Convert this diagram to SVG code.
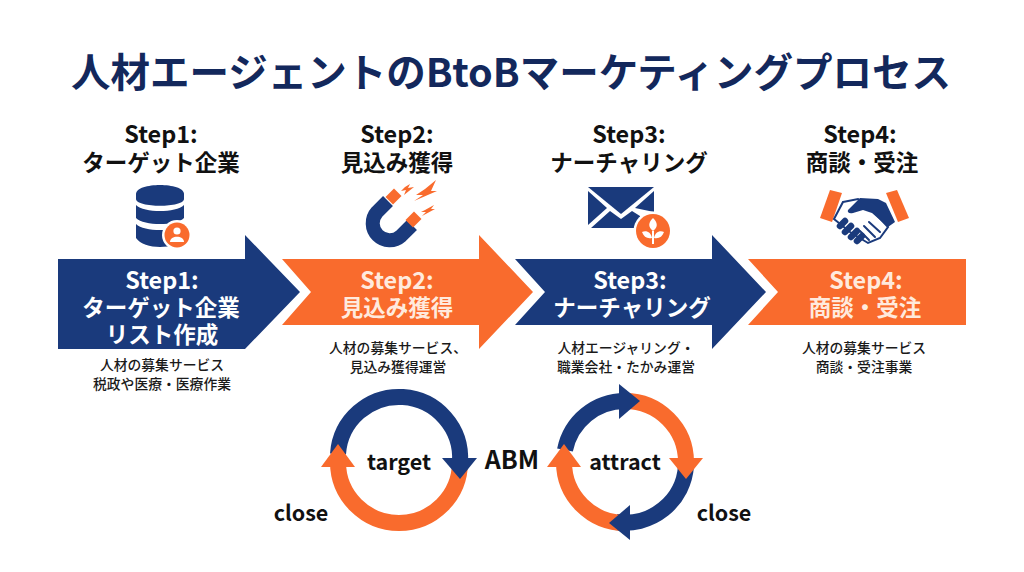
<svg xmlns="http://www.w3.org/2000/svg" width="1024" height="572" viewBox="0 0 1024 572">
<style>
text{font-family:"Noto Sans CJK JP","Noto Sans",sans-serif;text-anchor:middle}
.title{font-size:39.5px;font-weight:700;fill:#13285c}
.head{font-size:22.5px;font-weight:700;fill:#111}
.lab{font-size:22.5px;font-weight:700;fill:#fff}
.labo{font-size:22.5px;font-weight:700;fill:#ffeadd}
.st{font-size:23.4px}
.sub{font-size:13.8px;font-weight:500;fill:#1a1a1a}
.cyc{font-size:21.5px;font-weight:700;fill:#111}
.n{fill:#1a3a7c}.o{fill:#f96b2d}
.an{fill:none;stroke:#1a3a7c;stroke-width:16}.ao{fill:none;stroke:#f96b2d;stroke-width:16}
.f{fill:none;stroke:#1a3a7c;stroke-width:6.500;stroke-linecap:round}
.w{fill:none;stroke:#1a3a7c;stroke-width:2;stroke-linecap:round}
</style>
<rect width="1024" height="572" fill="#fff"/>
<text class="title" x="511" y="87">人材エージェントのBtoBマーケティングプロセス</text>

<g id="step1">
<text class="head"><tspan class="st" x="161" y="143">Step1:</tspan><tspan x="161" y="171">ターゲット企業</tspan></text>
<g id="icon-database">
<path class="n" d="M136 194C136 182 184 182 184 194V199C184 208 136 208 136 199Z"/>
<path class="n" d="M136 205C144 213 176 213 184 205V218C176 226 144 226 136 218Z"/>
<path class="n" d="M136 224C144 232 176 232 184 224V238C176 250 144 250 136 238Z"/>
<circle cx="177" cy="235" r="15" fill="#fff"/>
<circle class="o" cx="177" cy="235" r="12.500"/>
<circle cx="177" cy="231" r="3.600" fill="#fff"/>
<path d="M170 242C170 235 184 235 184 242Z" fill="#fff"/>
</g>
<path class="n" d="M58 259H245V235L300 292L245 349H58Z"/>
<text class="lab"><tspan class="st" x="162" y="289">Step1:</tspan><tspan x="161" y="316">ターゲット企業</tspan><tspan x="162" y="343">リスト作成</tspan></text>
<text class="sub"><tspan x="162" y="370">人材の募集サービス</tspan><tspan x="162" y="389">税政や医療・医療作業</tspan></text>
</g>

<g id="step2">
<text class="head"><tspan class="st" x="397" y="143">Step2:</tspan><tspan x="397" y="171">見込み獲得</tspan></text>
<g id="icon-magnet">
<path d="M388 201L377 212A17 17 0 0 0 401 236L412 225" fill="none" stroke="#1a3a7c" stroke-width="14"/>
<path class="o" d="M385.500 197L394 188.500L401.500 196L393 204.500Z"/>
<path class="o" d="M405.500 220L414 211.500L421.500 219L413 227.500Z"/>
<path class="o" d="M405 187L410 184L408 188L414 187L404 195L406 190L401 191Z"/>
<path class="o" d="M425 189L436 180L431 191L437 191L414 201L423 195L416 195Z"/>
<path class="o" d="M425 210L434 205L431 209L435 209L422 216L426 212L421 212Z"/>
</g>
<path class="o" d="M282 259H479V235L533 292L479 349V325H282L311 292Z"/>
<text class="labo"><tspan class="st" x="397" y="289">Step2:</tspan><tspan x="397" y="316">見込み獲得</tspan></text>
<text class="sub"><tspan x="398" y="353">人材の募集サービス、</tspan><tspan x="398" y="372">見込み獲得運営</tspan></text>
</g>

<g id="step3">
<text class="head"><tspan class="st" x="629" y="143">Step3:</tspan><tspan x="629" y="171">ナーチャリング</tspan></text>
<g id="icon-mail">
<path class="n" d="M588 187H654L621 214Z"/>
<path class="n" d="M588 191V225L607 208Z"/>
<path class="n" d="M654 191V212L635 208Z"/>
<path class="n" d="M588 228H640V216L632 211L621 219L610 211L591 228Z"/>
<circle cx="653" cy="231" r="19.500" fill="#fff"/>
<circle class="o" cx="653" cy="231" r="17"/>
<path d="M653 218C658 223 658 227 653 231C648 227 648 223 653 218Z" fill="#fff"/>
<path d="M642 232C647 230 651 233 652 238C647 239 644 237 642 232Z" fill="#fff"/>
<path d="M664 232C659 230 655 233 654 238C659 239 662 237 664 232Z" fill="#fff"/>
<rect x="652" y="231" width="2" height="13" fill="#fff"/>
</g>
<path class="n" d="M515 259H712V235L766 292L712 349V325H515L545 292Z"/>
<text class="lab"><tspan class="st" x="630" y="289">Step3:</tspan><tspan x="632" y="316">ナーチャリング</tspan></text>
<text class="sub"><tspan x="626" y="353">人材エージャリング・</tspan><tspan x="626" y="372">職業会社・たかみ運営</tspan></text>
</g>

<g id="step4">
<text class="head"><tspan class="st" x="860" y="143">Step4:</tspan><tspan x="862" y="171">商談・受注</tspan></text>
<g id="icon-handshake">
<path class="o" d="M830 190L842 193L832 222L820 218Z"/>
<path class="o" d="M886 193L897 190L909 218L898 222Z"/>
<path d="M843 202L858 199L872 210L888 227L880 238L868 243L850 232L834 219Z" fill="#fff" stroke="#1a3a7c" stroke-width="2"/>
<path class="n" d="M848 210L860 198L878 199L886 203L895 222L888 227L872 213L863 210L853 213C849 214 847 212 848 210Z"/>
<path class="f" d="M840 226L845 221M845 232L851 226M851 237L857 231M857 241L862 236"/>
<path class="w" d="M869 222L880 232M864 226L875 237M860 231L869 240"/>
</g>
<path class="o" d="M748 259H966V325H748L778 292Z"/>
<text class="labo"><tspan class="st" x="866" y="289">Step4:</tspan><tspan x="865" y="316">商談・受注</tspan></text>
<text class="sub"><tspan x="864" y="353">人材の募集サービス</tspan><tspan x="864" y="372">商談・受注事業</tspan></text>
</g>

<g id="connectors">
<g id="cycle-target">
<path class="ao" d="M460 462A61 61 0 0 1 338 462"/>
<path class="an" d="M338 454A61 61 0 0 1 460 462"/>
<path class="o" d="M321 467L338 444L355 467Z"/>
<path class="n" d="M442 458H477L460 479Z"/>
</g>
<g id="cycle-attract">
<path class="ao" d="M625 401A61 61 0 0 1 686 462"/>
<path class="an" d="M686 466A61 61 0 0 1 616 522"/>
<path class="ao" d="M625 523A61 61 0 0 1 564 462"/>
<path class="an" d="M565 450A61 61 0 0 1 625 401"/>
<path class="o" d="M669 458H703L686 479Z"/>
<path class="n" d="M630 505V540L609 523Z"/>
<path class="o" d="M547 467L564 444L581 467Z"/>
<path class="n" d="M619 384V419L640 401Z"/>
</g>
</g>
<text class="cyc" x="399" y="470">target</text>
<text class="cyc" x="625" y="470">attract</text>
<text class="cyc" x="512" y="469" style="font-size:25px">ABM</text>
<text class="cyc" x="301" y="521">close</text>
<text class="cyc" x="724" y="521">close</text>
</svg>
